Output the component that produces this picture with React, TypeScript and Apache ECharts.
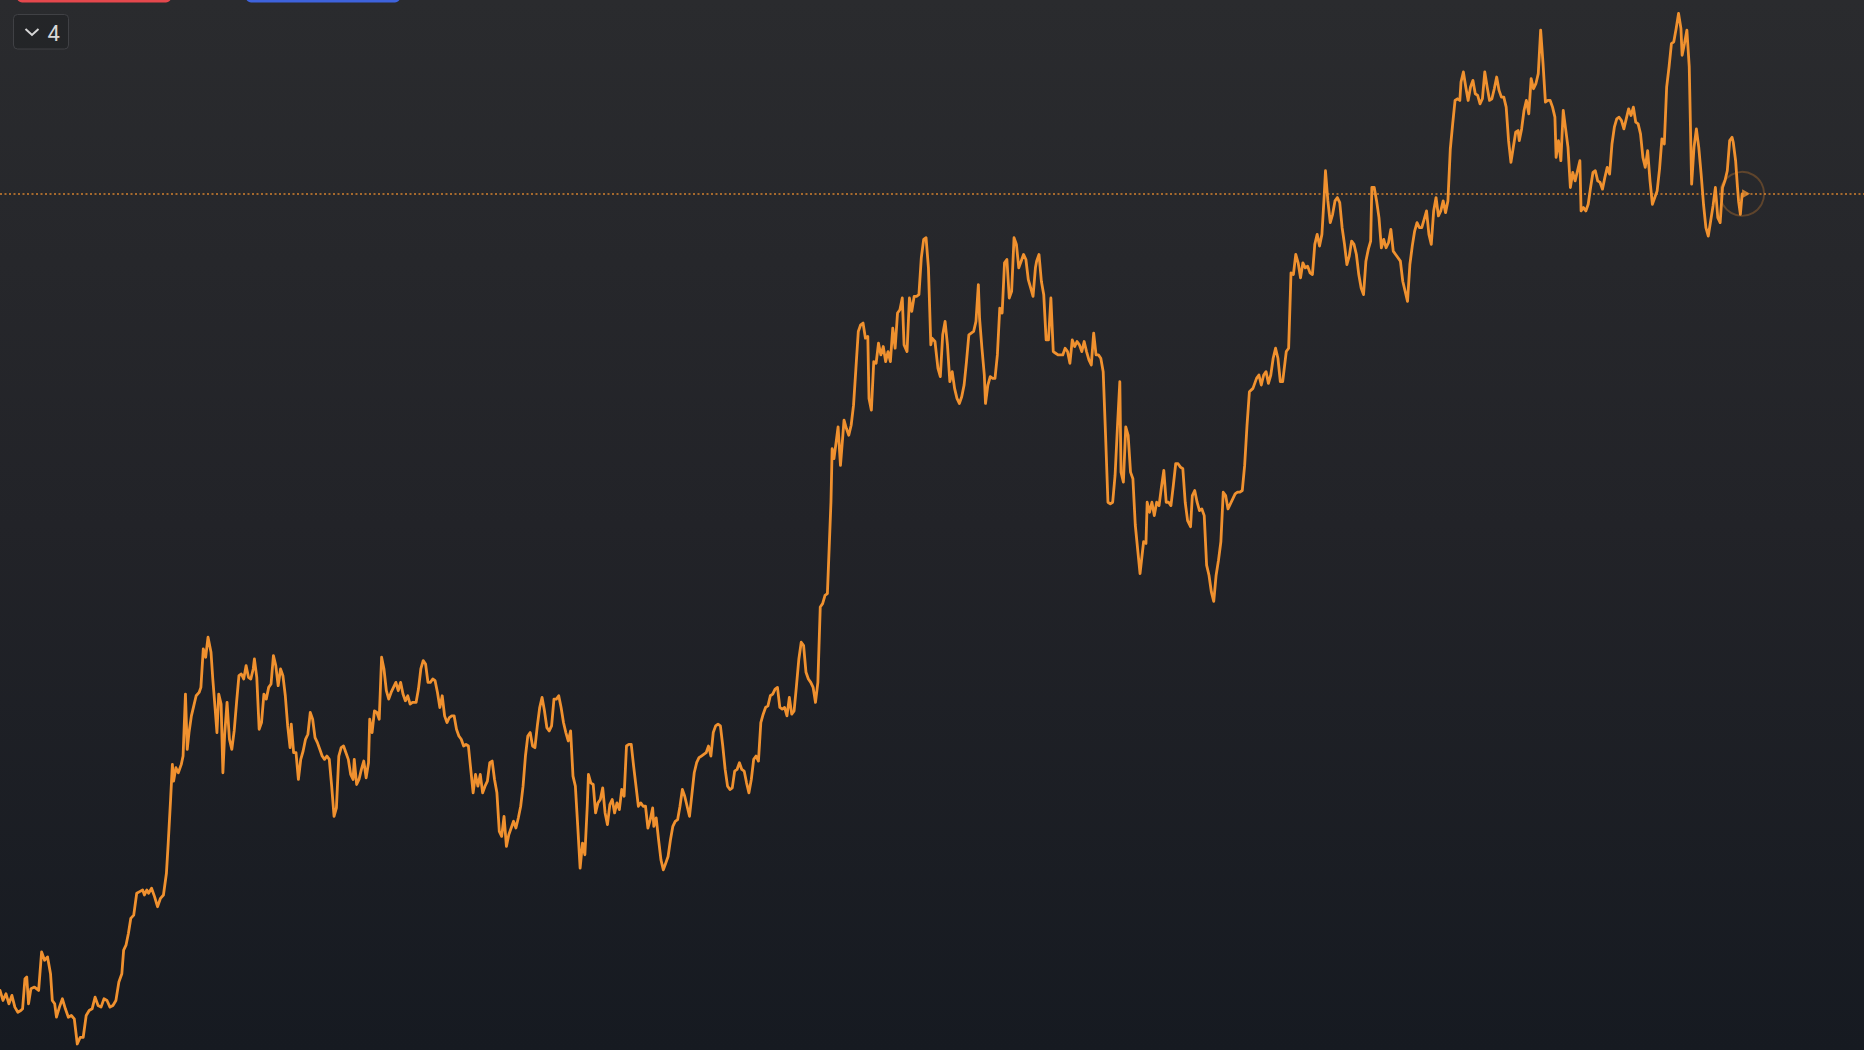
import React, { useEffect, useRef } from "react";
import * as echarts from "echarts";

// [day, price] pairs (arbitrary units, axis 0..3136)
const segA: [number, number][] = [
  [0,178],[5,148],[10,168],[15,138],[20,163],[25,128],[30,113],[35,118],[38,123],[42,213],[45,218],[48,138],[52,183],[58,188],[65,178],[70,293],[75,268],[80,278],[85,228],[88,148],[92,138],[95,98],[100,128],[105,153],[110,123],[115,98],[120,103],[125,93],[130,18],[135,38],[140,38],[145,103],[150,118],[155,123],[160,158],[165,133],[170,128],[175,153],[180,148],[185,128],[190,133],[195,148],[200,203],[205,228],[208,298],[212,313],[216,348],[220,393],[225,403],[230,468],[235,473],[240,478],[243,463],[247,478],[250,468],[255,483],[260,458],[265,428],[270,453],[275,463],[280,528],[283,618],[287,748],[290,853],[292,803],[296,843],[300,828],[305,853],[308,878],[312,1063],[315,898],[318,948],[322,998],[326,1028],[330,1058],[335,1068],[338,1083],[342,1198],[346,1173],[350,1233],[355,1188],[358,1108],[362,1018],[365,948],[368,1063],[372,1033],[375,828],[378,943],[382,1038],[386,928],[390,898],[394,953],[398,1038],[402,1118],[406,1123],[410,1108],[414,1148],[418,1113],[422,1108],[426,1138],[428,1168],[432,1113],[436,958],[440,978],[444,1063],[448,1048],[452,1083],[456,1093],[460,1178],[464,1148],[468,1088],[472,1138],[476,1118],[480,1058],[484,968],[488,903],[490,973],[494,888],[498,888],[502,808],[506,868],[510,893],[514,928],[518,943],[522,1008],[526,988],[530,933],[534,918],[538,898],[542,878],[546,868],[550,878],[554,868],[558,788],[562,698],[566,723],[570,878],[574,903],[578,908],[582,888],[586,868],[590,823],[594,808],[596,868],[600,793],[604,808],[608,838],[612,863],[616,813],[620,858],[622,988],[626,948],[630,1013],[634,1008],[638,988],[642,1173],[646,1138],[650,1073],[654,1048],[658,1068],[662,1083],[666,1098],[670,1073],[674,1098],[678,1063],[682,1043],[686,1058],[690,1033],[694,1038],[700,1038],[704,1078],[708,1138],[712,1163],[716,1153],[720,1098],[724,1098],[728,1108],[732,1103],[736,1068],[740,1023],[744,1058],[748,998],[752,978],[756,993],[760,998],[764,998],[768,958],[772,938],[776,928],[780,908],[784,913],[788,908],[792,838],[796,768],[800,823],[804,788],[808,823],[812,768],[816,788],[820,803],[824,858],[828,863],[832,808],[836,768],[840,653],[844,638],[848,698],[852,608],[856,643],[860,663],[864,683],[868,663],[872,693],[876,728],[880,788],[884,878],[888,938],[892,948],[896,908],[900,903],[904,968],[908,1023],[912,1053],[916,1013],[920,963],[924,953],[928,968],[932,1048],[936,1048],[940,1058],[944,1023],[948,978],[952,948],[956,923],[960,953],[964,818],[968,788],[972,668],[976,543],[980,618],[984,583],[988,728],[990,823],[994,798],[998,793],[1002,708],[1006,738],[1010,748],[1014,783],[1018,708],[1022,673],[1026,733],[1030,748],[1034,708],[1038,738],[1042,718],[1046,778],[1050,758],[1054,908],[1058,913],[1062,913],[1066,848],[1070,788],[1074,728],[1078,738],[1082,728],[1086,728],[1090,663],[1094,688],[1098,723],[1100,668],[1104,693],[1108,628],[1112,568],[1116,538],[1120,558],[1124,578],[1128,628],[1132,668],[1136,683],[1140,688],[1144,728],[1148,778],[1152,758],[1156,728],[1160,698],[1164,763],[1168,828],[1172,858],[1176,873],[1180,878],[1184,883],[1188,888],[1192,908],[1196,878],[1200,948],[1204,968],[1208,973],[1212,968],[1216,908],[1220,838],[1224,788],[1228,778],[1232,783],[1236,833],[1240,838],[1244,858],[1248,838],[1252,833],[1256,798],[1260,768],[1264,808],[1268,868],[1272,878],[1276,863],[1280,978],[1284,1003],[1288,1023],[1292,1028],[1296,1058],[1300,1063],[1304,1078],[1308,1083],[1312,1023],[1316,1018],[1320,1023],[1324,998],[1328,1053],[1332,1003],[1336,1013],[1340,1088],[1344,1168],[1348,1218],[1352,1208],[1356,1128],[1360,1108],[1364,1098],[1368,1083],[1372,1038],[1376,1098],[1380,1323],[1384,1333],[1388,1358],[1392,1363]
];

const segB: [number, number][] = [
  [1398,1636],[1400,1796],[1403,1766],[1406,1806],[1410,1861],[1414,1746],[1418,1836],[1420,1881],[1424,1856],[1428,1836],[1432,1866],[1436,1926],[1440,2036],[1444,2146],[1448,2166],[1452,2171],[1456,2126],[1460,2131],[1462,1946],[1466,1911],[1470,2056],[1474,2051],[1478,2111],[1482,2076],[1486,2101],[1490,2056],[1494,2086],[1498,2056],[1502,2156],[1506,2096],[1510,2201],[1514,2211],[1518,2246],[1521,2106],[1526,2086],[1530,2246],[1534,2206],[1538,2251],[1542,2251],[1546,2256],[1550,2366],[1554,2421],[1558,2426],[1562,2336],[1566,2106]
];

const segC: [number, number][] = [
  [1568,2126],[1573,2116],[1578,2036],[1582,2011],[1586,2136],[1590,2176],[1594,2106],[1598,1996],[1602,2026],[1606,1976],[1610,1946],[1614,1931],[1618,1951],[1622,1986],[1626,2056],[1630,2136],[1634,2141],[1638,2146],[1642,2176],[1646,2286],[1648,2186],[1652,2096],[1656,2016],[1658,1931],[1662,1986],[1666,2011],[1670,2006],[1674,2006],[1678,2076],[1682,2216],[1686,2201],[1690,2351],[1694,2361],[1698,2246],[1702,2266],[1706,2426],[1710,2406],[1714,2336],[1718,2356],[1722,2376],[1726,2361],[1730,2301],[1734,2276],[1738,2251],[1742,2336],[1744,2356],[1748,2376],[1752,2296],[1756,2256],[1760,2121],[1764,2121],[1768,2246],[1772,2086],[1776,2081],[1780,2076],[1784,2076],[1788,2076],[1792,2096],[1796,2086],[1800,2051],[1804,2121],[1808,2101],[1812,2116],[1816,2106],[1820,2086],[1824,2116],[1828,2086],[1832,2061],[1836,2046],[1840,2141],[1844,2076],[1848,2076],[1852,2066],[1856,2026],[1860,1836],[1864,1636],[1868,1631],[1872,1636],[1876,1716],[1880,1861],[1884,1996],[1886,1726],[1890,1696],[1894,1861],[1898,1836],[1902,1726],[1906,1706],[1910,1568],[1918,1423],[1924,1518],[1928,1513],[1930,1636],[1934,1606],[1938,1636],[1942,1596],[1946,1636],[1950,1626],[1954,1681],[1958,1731],[1962,1636],[1966,1636],[1970,1626],[1974,1686],[1978,1751],[1982,1751],[1986,1741],[1990,1736],[1994,1636],[1998,1581],[2003,1563],[2006,1656],[2010,1671],[2014,1636],[2018,1611],[2022,1616],[2026,1596],[2030,1448],[2034,1418],[2038,1368],[2042,1340],[2046,1418],[2050,1463],[2054,1518],
  [2058,1666],[2062,1656],[2066,1616],[2070,1631],[2074,1646],[2078,1661],[2082,1666],[2086,1666],[2090,1671],[2094,1746],[2098,1866],[2102,1966],[2108,1976],[2114,2006],[2118,2016],[2122,1986],[2126,2016],[2130,2026],[2134,1991],[2138,2016],[2142,2066],[2146,2096],[2150,2066],[2154,1996],[2158,1996],[2164,2086],[2168,2096],[2172,2321],[2176,2316],[2180,2376],[2184,2351],[2188,2306],[2192,2351],[2196,2336],[2200,2341],[2204,2321],[2208,2316],[2212,2406],[2216,2436],[2220,2401],[2224,2436],[2228,2556],[2230,2626],[2234,2536],[2238,2471],[2242,2496],[2246,2536],[2250,2546],[2254,2531],[2258,2456],[2262,2406],[2266,2346],[2270,2371],[2274,2416],[2278,2406],[2282,2376],[2286,2316],[2290,2276],[2294,2256],[2298,2356],[2302,2391],[2306,2416],[2308,2576],[2312,2576],[2316,2536],[2320,2486],[2324,2396],[2328,2421],[2332,2396],[2336,2411],[2340,2451],[2344,2386],[2348,2376],[2352,2366],[2356,2356],[2360,2296],[2364,2266],[2368,2236],[2372,2346],[2376,2401],[2380,2446],[2384,2471],[2388,2456],[2392,2456],[2396,2481],[2400,2506],[2404,2436],[2408,2406],[2412,2506],[2416,2546],[2420,2491],[2424,2506],[2428,2536],[2432,2501],[2436,2536],[2440,2691],[2444,2766],[2448,2836],[2452,2841],[2456,2836],[2458,2891],[2462,2921],[2466,2876],[2470,2836],[2474,2876],[2478,2896],[2482,2856],[2486,2851],[2490,2826],[2494,2841],[2498,2921],[2502,2876],[2506,2836],[2510,2841],[2514,2871],[2518,2906],[2522,2866],[2526,2846],[2530,2846],[2534,2816],[2538,2716],[2542,2651],[2546,2696],[2550,2741],[2554,2746],[2556,2716],[2560,2751],[2564,2806],[2568,2836],[2572,2796],[2576,2901],[2580,2871],[2584,2886],[2588,2916],[2592,3046],[2596,2946],[2600,2831],[2604,2836],[2608,2836],[2612,2816],[2616,2786],[2618,2666],[2622,2716],[2626,2656],[2630,2806],[2634,2751],[2638,2696],[2642,2576],[2646,2621],[2650,2596],[2654,2626],[2658,2656],[2660,2506],[2664,2516],[2668,2506],[2672,2526],[2676,2576],[2680,2621],[2684,2626],[2688,2596],[2692,2591],[2696,2571],[2700,2606],[2704,2636],[2708,2616],[2712,2706],[2716,2756],[2720,2781],[2724,2786],[2728,2776],[2732,2751],[2736,2781],[2740,2811],[2744,2791],[2748,2816],[2752,2771],[2756,2766],[2760,2736],[2764,2666],[2768,2636],[2772,2686],[2776,2596],[2780,2526],[2784,2546],[2788,2566],[2792,2631],[2796,2721],[2800,2706],[2804,2876],[2808,2936],[2812,3006],[2816,3011],[2820,3051],[2824,3096],[2828,3051],[2830,2971],[2834,3006],[2838,3046],[2842,2936],[2846,2586],[2850,2696],[2854,2751],[2858,2696],[2862,2616],[2866,2526],[2870,2456],[2874,2431],[2878,2476],[2882,2521],[2886,2576],[2890,2486],[2894,2471],[2898,2576],[2902,2596],[2906,2626],[2910,2716],[2914,2726],[2916,2711],[2920,2656],[2923,2580],[2925,2535],[2928,2496],[2931,2557]
];

const AXIS_MAX = 3136;
const LINE_COLOR = "#f0912f";

export default function App() {
  const ref = useRef<HTMLDivElement>(null);

  useEffect(() => {
    if (!ref.current) return;
    const chart = echarts.init(ref.current, undefined, { renderer: "svg" });
    const data = [...segA, ...segB, ...segC];
    const last = segC[segC.length - 1];

    chart.setOption({
      animation: false,
      backgroundColor: "transparent",
      grid: { left: 0, right: 0, top: 0, bottom: 0 },
      xAxis: { type: "value", min: 0, max: AXIS_MAX, show: false },
      yAxis: { type: "value", min: 0, max: AXIS_MAX, show: false },
      series: [
        {
          type: "line",
          data,
          showSymbol: false,
          symbol: "none",
          lineStyle: { color: LINE_COLOR, width: 2.8, join: "round", cap: "round" },
          markLine: {
            silent: true,
            symbol: ["none", "none"],
            label: { show: false },
            lineStyle: { color: LINE_COLOR, type: [2, 2.5], width: 1.5, opacity: 0.85 },
            data: [{ yAxis: last[1] }],
          },
          z: 3,
        },
        {
          type: "scatter",
          data: [last],
          symbol: "circle",
          symbolSize: 44,
          silent: true,
          itemStyle: {
            color: "rgba(0,0,0,0)",
            borderColor: "rgba(240,145,47,0.35)",
            borderWidth: 2,
          },
          z: 2,
        },
        {
          type: "scatter",
          data: [last],
          symbol: "triangle",
          symbolRotate: -90,
          symbolSize: [9, 8],
          symbolOffset: [4, 0],
          silent: true,
          itemStyle: { color: LINE_COLOR },
          z: 4,
        },
      ],
      graphic: [
        { type: "rect", shape: { x: 17, y: -8, width: 154, height: 10.5, r: 5 }, style: { fill: "#e5484d" } },
        { type: "rect", shape: { x: 246, y: -8, width: 154, height: 10.5, r: 5 }, style: { fill: "#3e63dd" } },
        {
          type: "rect",
          shape: { x: 13.5, y: 14.5, width: 55, height: 34.5, r: 4 },
          style: { fill: "rgba(30,31,34,0.5)", stroke: "#404145", lineWidth: 1 },
        },
        {
          type: "polyline",
          shape: { points: [[25.5, 29], [32, 35], [38.5, 29]] },
          style: { stroke: "#d6d6d6", lineWidth: 2, fill: "none" },
        },
        {
          type: "text",
          x: 47.5,
          y: 33.5,
          style: {
            text: "4",
            fontSize: 22,
            fontFamily: "Roboto",
            fill: "#d8d8d8",
            verticalAlign: "middle",
            align: "left",
          },
        },
      ],
    });

    return () => chart.dispose();
  }, []);

  return (
    <div
      ref={ref}
      style={{
        position: "fixed",
        left: 0,
        top: 0,
        width: 1864,
        height: 1050,
        background: "linear-gradient(to bottom, #2a2b2e 0%, #222328 50%, #161a21 100%)",
      }}
    />
  );
}
